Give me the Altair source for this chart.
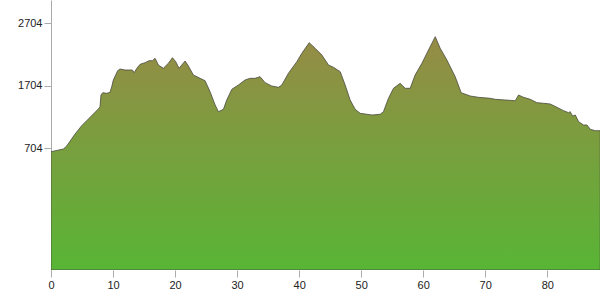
import altair as alt
import pandas as pd

dist_km = [0.0, 1.99, 2.53, 3.88, 4.95, 7.63, 7.90, 8.06, 8.34, 8.99, 9.52, 9.79, 10.05, 10.75,
           11.12, 11.94, 13.11, 13.43, 13.83, 14.36, 15.16, 15.80, 16.34, 16.78, 17.31, 18.11,
           18.92, 19.57, 20.11, 20.64, 21.08, 21.62, 22.15, 22.95, 24.04, 24.84, 25.64, 26.46,
           26.99, 27.79, 28.33, 29.15, 30.21, 31.28, 32.10, 32.90, 33.70, 34.52, 35.59, 36.66,
           37.21, 38.27, 39.63, 40.43, 41.62, 42.58, 43.66, 44.73, 45.53, 46.62, 47.42, 48.22,
           49.04, 49.84, 50.64, 51.73, 53.06, 53.59, 54.40, 55.21, 56.28, 57.10, 57.90, 58.70,
           59.79, 61.12, 61.94, 62.74, 63.82, 65.16, 66.12, 67.58, 68.91, 70.80, 71.62, 73.22,
           74.84, 75.37, 76.17, 77.26, 78.33, 79.40, 80.48, 81.56, 82.63, 83.43, 83.70, 84.07,
           84.52, 85.05, 85.85, 86.40, 86.94, 87.74, 88.54]
elev_m = [645, 688, 736, 928, 1061, 1328, 1365, 1552, 1589, 1579, 1595, 1685, 1792, 1941,
          1968, 1952, 1952, 1909, 1979, 2043, 2069, 2101, 2101, 2139, 2032, 1979,
          2059, 2149, 2085, 1979, 2032, 2096, 2016, 1872, 1819, 1781, 1605, 1392,
          1285, 1323, 1472, 1643, 1712, 1792, 1819, 1819, 1845, 1750, 1696, 1675,
          1712, 1899, 2085, 2219, 2389, 2299, 2192, 2032, 1995, 1925, 1712, 1472,
          1323, 1259, 1248, 1232, 1243, 1285, 1499, 1659, 1739, 1659, 1659, 1872,
          2059, 2325, 2485, 2299, 2112, 1845, 1589, 1536, 1515, 1499, 1483, 1472,
          1461, 1552, 1515, 1483, 1429, 1419, 1408, 1355, 1301, 1269, 1285, 1216,
          1232, 1125, 1072, 1072, 1003, 981, 981]

x_ticks = [0, 10, 20, 30, 40, 50, 60, 70, 80]
y_ticks = [704, 1704, 2704]

df = pd.DataFrame({"d": dist_km, "e": elev_m})

grad = alt.LinearGradient(
    gradient="linear",
    stops=[alt.GradientStop(color="#968b46", offset=0),
           alt.GradientStop(color="#58b535", offset=1)],
    x1=0, x2=0, y1=0, y2=1,
)

chart = alt.Chart(df).mark_area(
    color=grad, stroke="#4a4a40", strokeWidth=1, strokeOpacity=0.8, clip=True
).encode(
    x=alt.X("d:Q", scale=alt.Scale(domain=[0, 88.5], nice=False, zero=False),
            axis=alt.Axis(values=x_ticks, format="d", title=None, grid=False, domain=False,
                          labelFlush=False,
                          tickColor="#aaaaaa", tickSize=7, labelPadding=2,
                          labelFont="Liberation Sans", labelFontSize=11,
                          labelColor="#222222")),
    y=alt.Y("e:Q", scale=alt.Scale(domain=[-1248, 3072], nice=False, zero=False),
            axis=alt.Axis(values=y_ticks, format="d", title=None, grid=False, domain=True,
                          labelFlush=False,
                          domainColor="#aaaaaa", tickColor="#aaaaaa", tickSize=7,
                          labelPadding=2, labelFont="Liberation Sans", labelFontSize=11,
                          labelColor="#222222")),
    y2=alt.datum(-1248),
).properties(
    width=549, height=270,
    autosize=alt.AutoSizeParams(type="none"),
    padding={"left": 51, "top": 0, "right": 0, "bottom": 26},
).configure_view(stroke=None)

chart.save("out.html", embed_options={"renderer": "svg", "actions": False})
